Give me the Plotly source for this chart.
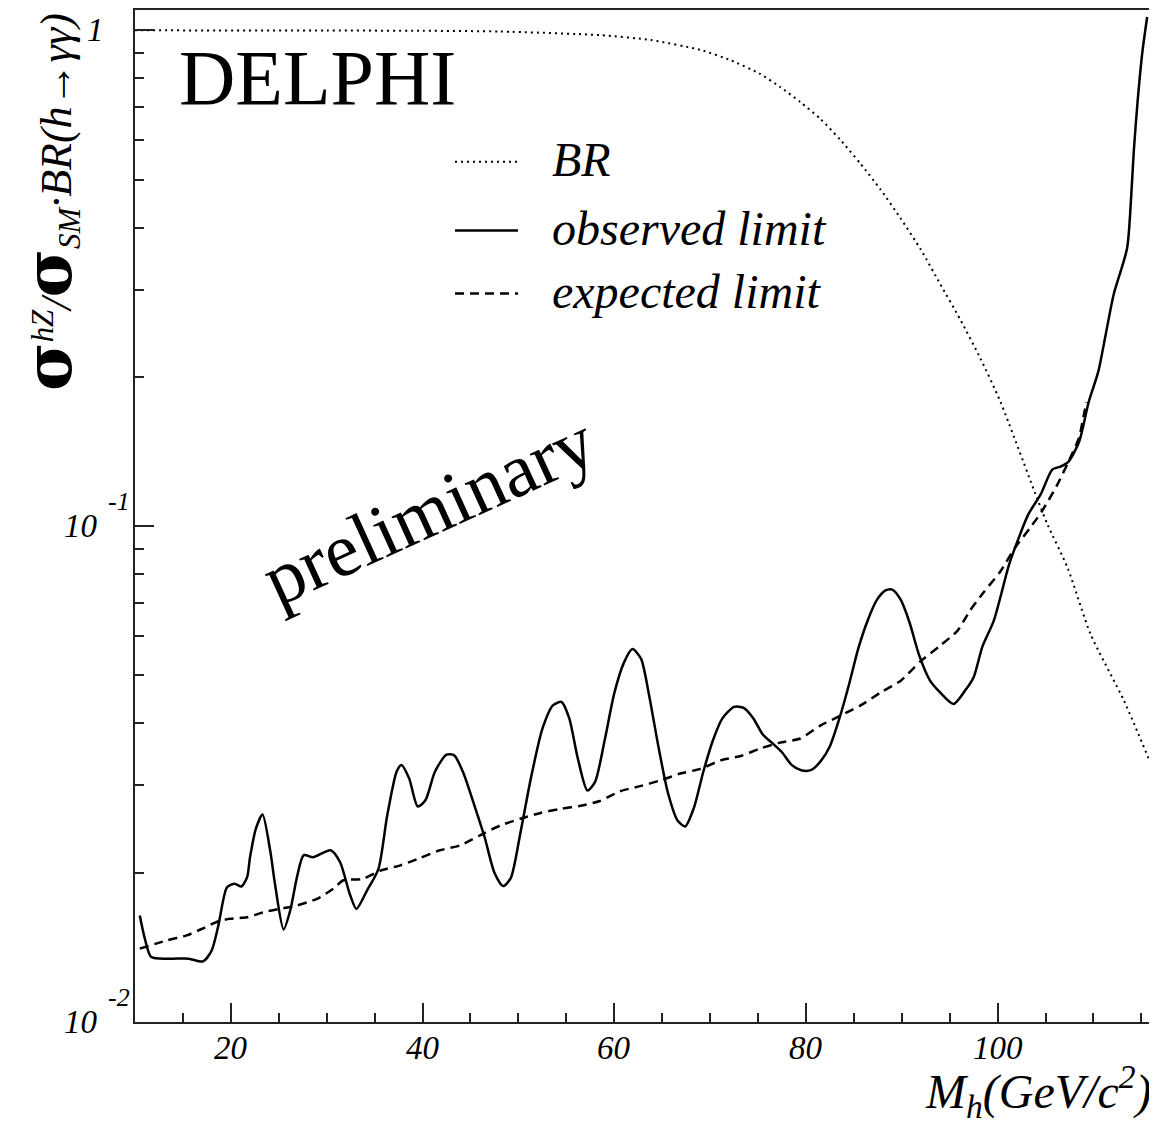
import math
import plotly.graph_objects as go

# ---------------- data ----------------
mass_obs = [10.5, 11.0, 11.7, 13.7, 15.6, 17.1, 18.0, 18.7, 19.6, 20.4, 21.1, 21.7, 22.0,
            22.6, 23.3, 24.1, 24.6, 25.5, 26.2, 26.9, 27.6, 28.6, 30.4, 31.4, 32.4, 33.1,
            34.2, 35.4, 36.3, 37.3, 37.8, 38.6, 39.5, 40.3, 41.3, 42.5, 43.3, 44.2, 45.5,
            46.5, 47.5, 48.4, 49.2, 50.2, 51.3, 52.5, 53.6, 54.5, 55.3, 56.2, 57.2, 58.0,
            59.0, 60.0, 61.0, 61.9, 62.8, 63.6, 64.6, 65.6, 66.6, 67.4, 68.3, 69.3, 70.3,
            71.3, 72.5, 73.5, 74.5, 75.5, 76.5, 77.5, 78.5, 79.5, 80.5, 81.5, 82.5, 83.5,
            84.5, 85.5, 86.5, 87.4, 88.3, 89.0, 89.9, 90.8, 91.8, 92.9, 94.0, 95.4, 96.6,
            97.5, 98.4, 99.6, 101.2, 102.2, 103.2, 104.5, 105.7, 106.6, 107.4, 108.5,
            109.5, 110.5, 111.3, 112.1, 113.5, 113.9, 114.2, 114.6, 115.1, 115.6]
limit_obs = [0.0164, 0.0148, 0.01352, 0.01342, 0.01342, 0.01325, 0.01394, 0.01566, 0.0187,
             0.0190, 0.01876, 0.0196, 0.0215, 0.0245, 0.0262, 0.0222, 0.0190, 0.01537,
             0.0168, 0.0196, 0.0217, 0.0215, 0.0222, 0.0210, 0.01814, 0.01691, 0.01841,
             0.02037, 0.026, 0.032, 0.033, 0.031, 0.0272, 0.028, 0.032, 0.0346, 0.0345,
             0.032, 0.027, 0.0235, 0.020, 0.0188, 0.0195, 0.024, 0.031, 0.039, 0.0435,
             0.0442, 0.041, 0.034, 0.0293, 0.0305, 0.037, 0.046, 0.053, 0.0565, 0.054,
             0.046, 0.036, 0.029, 0.0255, 0.0248, 0.027, 0.032, 0.037, 0.041, 0.0432,
             0.043, 0.041, 0.038, 0.0365, 0.035, 0.033, 0.0322, 0.0322, 0.0335, 0.036,
             0.041, 0.048, 0.057, 0.065, 0.071, 0.0742, 0.0745, 0.071, 0.064, 0.055,
             0.049, 0.0462, 0.0438, 0.0466, 0.0496, 0.0571, 0.0645, 0.0837, 0.0947,
             0.1056, 0.116, 0.130, 0.132, 0.135, 0.148, 0.178, 0.205, 0.245, 0.293,
             0.363, 0.451, 0.569, 0.718, 0.904, 1.064]

mass_exp = [10.5, 13.3, 15.4, 17.0, 18.7, 19.9, 21.7, 23.4, 25.1, 26.9, 29.0, 30.7, 31.7,
            33.8, 35.6, 37.7, 39.7, 41.8, 43.9, 46.0, 48.1, 50.2, 52.3, 54.4, 56.5, 58.5,
            60.6, 62.7, 64.8, 66.9, 69.0, 71.1, 73.2, 75.2, 77.3, 79.4, 81.5, 83.6, 85.7,
            87.8, 89.9, 92.0, 94.0, 95.8, 97.1, 98.5, 100.3, 101.8, 103.4, 104.6, 106.2,
            107.4, 108.5, 109.0, 109.3]
limit_exp = [0.01406, 0.01460, 0.01495, 0.01542, 0.01597, 0.01615, 0.01626, 0.01665,
             0.01691, 0.01718, 0.01772, 0.01857, 0.01929, 0.01945, 0.02020, 0.0207,
             0.0214, 0.0222, 0.0227, 0.0238, 0.0249, 0.0257, 0.0264, 0.0269, 0.0273,
             0.0279, 0.0292, 0.0299, 0.0307, 0.0317, 0.0324, 0.0337, 0.0344, 0.0356,
             0.0366, 0.0373, 0.0396, 0.0415, 0.0435, 0.0462, 0.0488, 0.0535, 0.0574,
             0.0615, 0.0675, 0.0734, 0.0811, 0.0904, 0.0993, 0.107, 0.121, 0.135,
             0.151, 0.168, 0.178]

mass_br = [10, 30, 40, 48.1, 58.5, 63.8, 69.0, 72.1, 75.2, 77.3, 79.4, 81.5, 83.6, 85.7,
           87.8, 89.9, 92.0, 94.0, 96.1, 98.2, 100.3, 104.1, 105.2, 107.3, 109.7, 113.2, 116.0]
br_vals = [1.0, 0.999, 0.998, 0.9945, 0.978, 0.956, 0.913, 0.871, 0.817, 0.769, 0.717,
           0.663, 0.601, 0.538, 0.477, 0.417, 0.361, 0.308, 0.261, 0.218, 0.178, 0.114,
           0.1008, 0.0824, 0.0605, 0.0444, 0.0331]

x_tick_vals = [20, 40, 60, 80, 100]
x_tick_text = ["20", "40", "60", "80", "100"]
x_minor_vals = [15, 25, 30, 35, 45, 50, 55, 65, 70, 75, 85, 90, 95, 105, 110, 115]
y_tick_vals = [0.01, 0.1, 1]
y_tick_base = ["10", "10", "1"]
y_tick_exp = ["-2", "-1", ""]
y_minor_vals = [0.02, 0.03, 0.04, 0.05, 0.06, 0.07, 0.08, 0.09,
                0.2, 0.3, 0.4, 0.5, 0.6, 0.7, 0.8, 0.9]

legend_labels = ["BR", "observed limit", "expected limit"]

# ---------------- layout geometry (page pixels; the page body has an 8px margin) ----------------
PAGE_OFF = 8
W, H = 1157 - PAGE_OFF, 1127 - PAGE_OFF
L, R, T, B = 135, 1151, 8, 1022          # plot frame in page pixels
SERIF = "Liberation Serif, Times New Roman, serif"


def px(x):
    return (x - L) / (R - L)


def py(y):
    return (B - y) / (B - T)


fig = go.Figure()
fig.add_trace(go.Scatter(x=mass_br, y=br_vals, mode="lines",
                         line=dict(color="black", width=2, dash="2px,4px", shape="spline", smoothing=0.6),
                         showlegend=False, hoverinfo="skip"))
fig.add_trace(go.Scatter(x=mass_exp, y=limit_exp, mode="lines",
                         line=dict(color="black", width=2.5, dash="9px,6px", shape="spline", smoothing=0.6),
                         showlegend=False, hoverinfo="skip"))
fig.add_trace(go.Scatter(x=mass_obs, y=limit_obs, mode="lines",
                         line=dict(color="black", width=2.5, shape="spline", smoothing=0.7),
                         showlegend=False, hoverinfo="skip"))

axis_common = dict(showline=True, linecolor="#222", linewidth=2, mirror=True,
                   showgrid=False, zeroline=False, ticks="inside", tickcolor="#222",
                   tickwidth=1.5, ticklen=19, showticklabels=False)

fig.update_xaxes(range=[10, 116], tickmode="array", tickvals=x_tick_vals,
                 minor=dict(tickmode="array", tickvals=x_minor_vals, ticks="inside", ticklen=9,
                            tickwidth=1.5, tickcolor="#222", showgrid=False),
                 **axis_common)
fig.update_yaxes(type="log", range=[-2, 0.041], tickmode="array", tickvals=y_tick_vals,
                 minor=dict(tickmode="array", tickvals=y_minor_vals, ticks="inside", ticklen=9,
                            tickwidth=1.5, tickcolor="#222", showgrid=False),
                 **axis_common)

annotations = []
tick_font = dict(family=SERIF, size=33, style="italic", color="black")
# x tick labels, placed on the x scale
for v, t in zip(x_tick_vals, x_tick_text):
    annotations.append(dict(xref="x", yref="paper", x=v, y=py(1048), xanchor="center",
                            yanchor="middle", showarrow=False, text=t, font=tick_font))
# y tick labels (ROOT style 10 with raised exponent), placed on the log y scale
for v, base, ex in zip(y_tick_vals, y_tick_base, y_tick_exp):
    annotations.append(dict(xref="paper", yref="y", x=px(100 if ex else 106), y=math.log10(v),
                            xanchor="right", yanchor="middle", showarrow=False, text=base,
                            font=tick_font))
    if ex:
        annotations.append(dict(xref="paper", yref="y", x=px(132), y=math.log10(v), yshift=25,
                                xanchor="right", yanchor="middle", showarrow=False, text=ex,
                                font=dict(family=SERIF, size=26, style="italic", color="black")))

# y-axis title
SIG = ("<span style='font-family:DejaVu Serif;font-size:66px;font-style:normal;"
       "font-weight:bold'>σ</span>")
annotations.append(dict(
    xref="paper", yref="paper", x=px(48), y=py(9), xanchor="center", yanchor="top",
    textangle=-90, showarrow=False,
    text=SIG + "<sup>hZ</sup>/" + SIG + "<sub>SM</sub>·BR(h→γγ)",
    font=dict(family=SERIF, size=44, style="italic", color="black")))
# x-axis title
annotations.append(dict(
    xref="paper", yref="paper", x=px(1153), y=py(1092), xanchor="right", yanchor="middle",
    showarrow=False, text="M<sub>h</sub>(GeV/c<sup>2</sup>)",
    font=dict(family=SERIF, size=48, style="italic", color="black")))
# DELPHI
annotations.append(dict(
    xref="paper", yref="paper", x=px(177), y=py(76), xanchor="left", yanchor="middle",
    showarrow=False, text="DELPHI",
    font=dict(family=SERIF, size=78, color="black")))
# preliminary
annotations.append(dict(
    xref="paper", yref="paper", x=px(428), y=py(509), xanchor="center", yanchor="middle",
    showarrow=False, text="preliminary", textangle=-24.5,
    font=dict(family=SERIF, size=76, color="black")))

# legend (drawn by hand)
legend_y = [160, 229, 292]
legend_dash = ["2px,4px", "solid", "9px,6px"]
legend_w = [2, 2.5, 2.5]
shapes = []
for lab, yy, dsh, lw in zip(legend_labels, legend_y, legend_dash, legend_w):
    shapes.append(dict(type="line", xref="paper", yref="paper", x0=px(455), x1=px(518),
                       y0=py(yy), y1=py(yy), line=dict(color="black", width=lw, dash=dsh)))
    annotations.append(dict(xref="paper", yref="paper", x=px(550), y=py(yy - 2), xanchor="left",
                            yanchor="middle", showarrow=False, text=lab,
                            font=dict(family=SERIF, size=48, style="italic", color="black")))

fig.update_layout(width=W, height=H,
                  margin=dict(l=L - PAGE_OFF, r=(W + PAGE_OFF) - R, t=T - PAGE_OFF,
                              b=(H + PAGE_OFF) - B, pad=0),
                  paper_bgcolor="white", plot_bgcolor="white",
                  annotations=annotations, shapes=shapes, showlegend=False)

fig.write_html("out.html")
